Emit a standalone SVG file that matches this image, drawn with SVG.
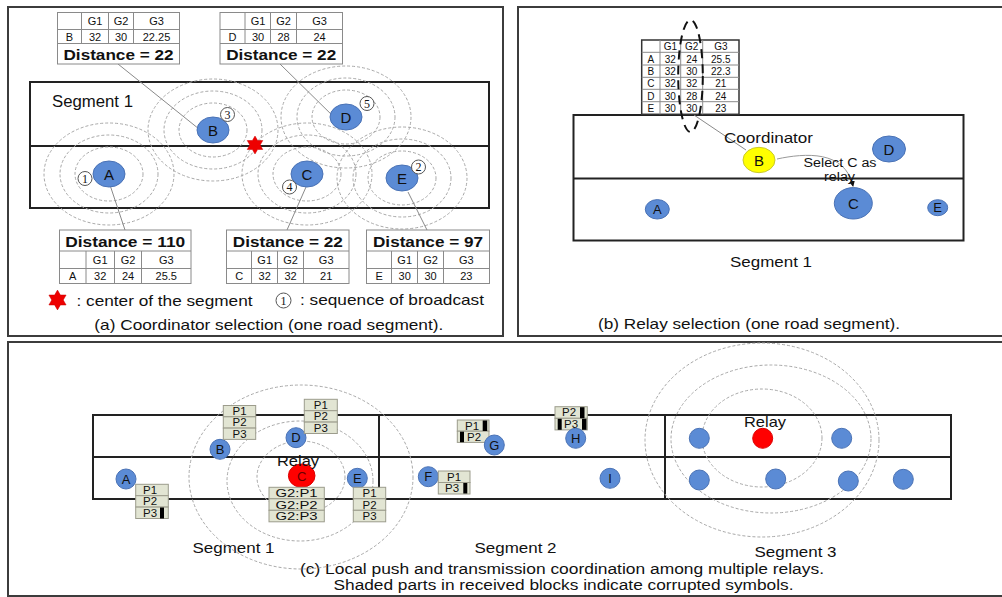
<svg xmlns="http://www.w3.org/2000/svg" width="1002" height="597" viewBox="0 0 1002 597">
<style>
text{font-family:"Liberation Sans",Arial,sans-serif;fill:#111}
.panel{fill:none;stroke:#3c3c3c;stroke-width:2}
.road{fill:none;stroke:#222;stroke-width:2}
.rng{fill:none;stroke:#a8a8a8;stroke-width:1;stroke-dasharray:3 2}
.node{fill:#5b8bd5;stroke:#4a72b5;stroke-width:1}
.nl{font-size:15px;text-anchor:middle}
.cell{fill:#fff;stroke:#8a8a8a;stroke-width:1}
.gl{stroke:#8a8a8a;stroke-width:1}
.tt{font-size:11px;text-anchor:middle}
.tb{font-size:10px;text-anchor:middle}
.dist{font-size:15px;font-weight:bold;text-anchor:middle}
.lead{stroke:#8a8a8a;stroke-width:1;fill:none}
.seq{fill:#fff;stroke:#555;stroke-width:1}
.sq{font-family:"Liberation Serif",serif;font-size:12px;text-anchor:middle}
.blk{fill:#e2e5d3;stroke:#9c9c8c;stroke-width:1}
.bt{font-size:10px;text-anchor:middle}
.bad{fill:#000}
.cap{font-size:15px;text-anchor:middle}
.cn{font-size:13px;text-anchor:middle}
</style>
<defs>
<polygon id="star" points="0,-9 2.6,-4.5 7.79,-4.5 5.2,0 7.79,4.5 2.6,4.5 0,9 -2.6,4.5 -7.79,4.5 -5.2,0 -7.79,-4.5 -2.6,-4.5" fill="#ee0000" stroke="#c00" stroke-width="0.5"/>
<marker id="arr" markerWidth="6" markerHeight="6" refX="5" refY="3" orient="auto" markerUnits="userSpaceOnUse"><path d="M0,0 L6,3 L0,6 Z" fill="#111"/></marker>
</defs>

<!-- Panel borders -->
<rect class="panel" x="8" y="7" width="495" height="329"/>
<rect class="panel" x="518" y="7" width="490" height="329"/>
<rect class="panel" x="8" y="342" width="1000" height="254"/>

<!-- ================= Panel (a) ================= -->
<g id="a-road">
<rect class="road" x="30" y="82" width="459" height="126"/>
<line class="road" x1="30" y1="146" x2="489" y2="146"/>
<text x="52" y="107" style="font-size:16px" textLength="81" lengthAdjust="spacingAndGlyphs">Segment 1</text>
</g>
<g id="a-ranges">
<ellipse class="rng" cx="109" cy="174" rx="34" ry="27"/><ellipse class="rng" cx="109" cy="174" rx="49" ry="39"/><ellipse class="rng" cx="109" cy="174" rx="65" ry="51"/>
<ellipse class="rng" cx="213" cy="130" rx="34" ry="27"/><ellipse class="rng" cx="213" cy="130" rx="49" ry="39"/><ellipse class="rng" cx="213" cy="130" rx="65" ry="51"/>
<ellipse class="rng" cx="307" cy="174" rx="34" ry="27"/><ellipse class="rng" cx="307" cy="174" rx="49" ry="39"/><ellipse class="rng" cx="307" cy="174" rx="65" ry="51"/>
<ellipse class="rng" cx="346" cy="117" rx="34" ry="27"/><ellipse class="rng" cx="346" cy="117" rx="49" ry="39"/><ellipse class="rng" cx="346" cy="117" rx="65" ry="51"/>
<ellipse class="rng" cx="402" cy="178" rx="34" ry="27"/><ellipse class="rng" cx="402" cy="178" rx="49" ry="39"/><ellipse class="rng" cx="402" cy="178" rx="65" ry="51"/>
</g>
<g id="a-connectors">
<line class="lead" x1="118" y1="64" x2="204" y2="133"/>
<line class="lead" x1="280" y1="64" x2="337" y2="120"/>
<line class="lead" x1="110" y1="185" x2="125" y2="230"/>
<line class="lead" x1="306" y1="187" x2="287" y2="230"/>
<line class="lead" x1="408" y1="192" x2="427" y2="230"/>
</g>
<use href="#star" x="255" y="145"/>
<g id="a-node-A"><ellipse class="node" cx="109" cy="174" rx="16" ry="13"/><text class="nl" x="109" y="179.5">A</text>
<circle class="seq" cx="85" cy="178.5" r="7"/><text class="sq" x="85" y="182.5">1</text></g>
<g id="a-node-B"><ellipse class="node" cx="213" cy="130" rx="16" ry="13"/><text class="nl" x="213" y="135.5">B</text>
<circle class="seq" cx="227.5" cy="114.5" r="7"/><text class="sq" x="227.5" y="118.5">3</text></g>
<g id="a-node-C"><ellipse class="node" cx="307" cy="174" rx="16" ry="13"/><text class="nl" x="307" y="179.5">C</text>
<circle class="seq" cx="289.5" cy="187" r="7"/><text class="sq" x="289.5" y="191">4</text></g>
<g id="a-node-D"><ellipse class="node" cx="346" cy="117" rx="16" ry="13"/><text class="nl" x="346" y="122.5">D</text>
<circle class="seq" cx="367" cy="103.5" r="7"/><text class="sq" x="367" y="107.5">5</text></g>
<g id="a-node-E"><ellipse class="node" cx="402" cy="178" rx="16" ry="13"/><text class="nl" x="402" y="183.5">E</text>
<circle class="seq" cx="418.5" cy="167" r="7"/><text class="sq" x="418.5" y="171">2</text></g>

<g id="a-table-B">
<rect class="cell" x="57.5" y="12.5" width="122" height="51.5"/>
<line class="gl" x1="57.5" y1="29.5" x2="179.5" y2="29.5"/><line class="gl" x1="57.5" y1="43.5" x2="179.5" y2="43.5"/>
<line class="gl" x1="81.5" y1="12.5" x2="81.5" y2="43.5"/><line class="gl" x1="108.5" y1="12.5" x2="108.5" y2="43.5"/><line class="gl" x1="133.5" y1="12.5" x2="133.5" y2="43.5"/>
<text class="tt" x="95" y="25">G1</text><text class="tt" x="121" y="25">G2</text><text class="tt" x="156.5" y="25">G3</text>
<text class="tt" x="69.5" y="40.5">B</text><text class="tt" x="95" y="40.5">32</text><text class="tt" x="121" y="40.5">30</text><text class="tt" x="156.5" y="40.5">22.25</text>
<text class="dist" x="118.5" y="59.5" textLength="110" lengthAdjust="spacingAndGlyphs">Distance = 22</text>
</g>
<g id="a-table-D">
<rect class="cell" x="220" y="12.5" width="122.5" height="51.5"/>
<line class="gl" x1="220" y1="29.5" x2="342.5" y2="29.5"/><line class="gl" x1="220" y1="43.5" x2="342.5" y2="43.5"/>
<line class="gl" x1="245" y1="12.5" x2="245" y2="43.5"/><line class="gl" x1="270.5" y1="12.5" x2="270.5" y2="43.5"/><line class="gl" x1="296.5" y1="12.5" x2="296.5" y2="43.5"/>
<text class="tt" x="258" y="25">G1</text><text class="tt" x="283.5" y="25">G2</text><text class="tt" x="319.5" y="25">G3</text>
<text class="tt" x="232.5" y="40.5">D</text><text class="tt" x="258" y="40.5">30</text><text class="tt" x="283.5" y="40.5">28</text><text class="tt" x="319.5" y="40.5">24</text>
<text class="dist" x="281.2" y="59.5" textLength="110" lengthAdjust="spacingAndGlyphs">Distance = 22</text>
</g>
<g id="a-table-A">
<rect class="cell" x="59.5" y="230" width="131.5" height="53.5"/>
<line class="gl" x1="59.5" y1="251" x2="191" y2="251"/><line class="gl" x1="59.5" y1="268.5" x2="191" y2="268.5"/>
<line class="gl" x1="86" y1="251" x2="86" y2="283.5"/><line class="gl" x1="114.5" y1="251" x2="114.5" y2="283.5"/><line class="gl" x1="141.5" y1="251" x2="141.5" y2="283.5"/>
<text class="dist" x="125.2" y="246.5" textLength="120" lengthAdjust="spacingAndGlyphs">Distance = 110</text>
<text class="tt" x="100.2" y="263.5">G1</text><text class="tt" x="128" y="263.5">G2</text><text class="tt" x="166.3" y="263.5">G3</text>
<text class="tt" x="72.7" y="280">A</text><text class="tt" x="100.2" y="280">32</text><text class="tt" x="128" y="280">24</text><text class="tt" x="166.3" y="280">25.5</text>
</g>
<g id="a-table-C">
<rect class="cell" x="226.5" y="230" width="122.5" height="53.5"/>
<line class="gl" x1="226.5" y1="251" x2="349" y2="251"/><line class="gl" x1="226.5" y1="268.5" x2="349" y2="268.5"/>
<line class="gl" x1="251.5" y1="251" x2="251.5" y2="283.5"/><line class="gl" x1="277.5" y1="251" x2="277.5" y2="283.5"/><line class="gl" x1="303.5" y1="251" x2="303.5" y2="283.5"/>
<text class="dist" x="287.8" y="246.5" textLength="110" lengthAdjust="spacingAndGlyphs">Distance = 22</text>
<text class="tt" x="264.7" y="263.5">G1</text><text class="tt" x="290.5" y="263.5">G2</text><text class="tt" x="326.2" y="263.5">G3</text>
<text class="tt" x="239.2" y="280">C</text><text class="tt" x="264.7" y="280">32</text><text class="tt" x="290.5" y="280">32</text><text class="tt" x="326.2" y="280">21</text>
</g>
<g id="a-table-E">
<rect class="cell" x="366.5" y="230" width="123" height="53.5"/>
<line class="gl" x1="366.5" y1="251" x2="489.5" y2="251"/><line class="gl" x1="366.5" y1="268.5" x2="489.5" y2="268.5"/>
<line class="gl" x1="391.5" y1="251" x2="391.5" y2="283.5"/><line class="gl" x1="417.5" y1="251" x2="417.5" y2="283.5"/><line class="gl" x1="443.5" y1="251" x2="443.5" y2="283.5"/>
<text class="dist" x="428" y="246.5" textLength="110" lengthAdjust="spacingAndGlyphs">Distance = 97</text>
<text class="tt" x="404.7" y="263.5">G1</text><text class="tt" x="430.5" y="263.5">G2</text><text class="tt" x="466.3" y="263.5">G3</text>
<text class="tt" x="379.2" y="280">E</text><text class="tt" x="404.7" y="280">30</text><text class="tt" x="430.5" y="280">30</text><text class="tt" x="466.3" y="280">23</text>
</g>
<g id="a-legend">
<use href="#star" transform="translate(57.5,300) scale(1.1)"/>
<text x="76.5" y="305.5" style="font-size:15px" textLength="176" lengthAdjust="spacingAndGlyphs">: center of the segment</text>
<circle class="seq" cx="283.5" cy="300.5" r="7.5"/><text class="sq" x="283.5" y="304.5">1</text>
<text x="300" y="304.5" style="font-size:15px" textLength="184" lengthAdjust="spacingAndGlyphs">: sequence of broadcast</text>
<text class="cap" x="268.8" y="330" textLength="349" lengthAdjust="spacingAndGlyphs">(a) Coordinator selection (one road segment).</text>
</g>

<!-- ================= Panel (b) ================= -->
<g id="b-road">
<rect class="road" x="573.5" y="115" width="390" height="125.5"/>
<line class="road" x1="573.5" y1="178.5" x2="963.5" y2="178.5"/>
<text x="771" y="267" style="font-size:15px;text-anchor:middle" textLength="82" lengthAdjust="spacingAndGlyphs">Segment 1</text>
<text class="cap" x="749" y="328.5" textLength="302" lengthAdjust="spacingAndGlyphs">(b) Relay selection (one road segment).</text>
</g>
<g id="b-table">
<rect x="641.7" y="40" width="97.3" height="74.3" fill="#fff" stroke="#333" stroke-width="1.5"/>
<line class="gl" x1="641.7" y1="52.3" x2="739" y2="52.3"/><line class="gl" x1="641.7" y1="65" x2="739" y2="65"/><line class="gl" x1="641.7" y1="77.3" x2="739" y2="77.3"/><line class="gl" x1="641.7" y1="89.3" x2="739" y2="89.3"/><line class="gl" x1="641.7" y1="101.7" x2="739" y2="101.7"/>
<line class="gl" x1="660" y1="40" x2="660" y2="114.3"/><line class="gl" x1="680.7" y1="40" x2="680.7" y2="114.3"/><line class="gl" x1="702.7" y1="40" x2="702.7" y2="114.3"/>
<text class="tb" x="670.3" y="50">G1</text><text class="tb" x="691.7" y="50">G2</text><text class="tb" x="720.8" y="50">G3</text>
<text class="tb" x="650.8" y="62.5">A</text><text class="tb" x="670.3" y="62.5">32</text><text class="tb" x="691.7" y="62.5">24</text><text class="tb" x="720.8" y="62.5">25.5</text>
<text class="tb" x="650.8" y="75">B</text><text class="tb" x="670.3" y="75">32</text><text class="tb" x="691.7" y="75">30</text><text class="tb" x="720.8" y="75">22.3</text>
<text class="tb" x="650.8" y="87.2">C</text><text class="tb" x="670.3" y="87.2">32</text><text class="tb" x="691.7" y="87.2">32</text><text class="tb" x="720.8" y="87.2">21</text>
<text class="tb" x="650.8" y="99.5">D</text><text class="tb" x="670.3" y="99.5">30</text><text class="tb" x="691.7" y="99.5">28</text><text class="tb" x="720.8" y="99.5">24</text>
<text class="tb" x="650.8" y="111.9">E</text><text class="tb" x="670.3" y="111.9">30</text><text class="tb" x="691.7" y="111.9">30</text><text class="tb" x="720.8" y="111.9">23</text>
<ellipse cx="690.5" cy="76" rx="12.3" ry="56" fill="none" stroke="#111" stroke-width="2" stroke-dasharray="9 6"/>
</g>
<g id="b-connectors">
<line class="lead" x1="694" y1="115" x2="746" y2="150"/>
<path d="M777,159 C805,153 845,150 853,186" fill="none" stroke="#999" stroke-width="1" marker-end="url(#arr)"/>
</g>
<g id="b-node-B"><ellipse cx="759" cy="160" rx="16" ry="12.7" fill="#ffff00" stroke="#c9c92a" stroke-width="1"/><text class="nl" x="759" y="165.5">B</text>
<text x="768.5" y="142.7" style="font-size:15px;text-anchor:middle" textLength="89" lengthAdjust="spacingAndGlyphs">Coordinator</text></g>
<g id="b-node-D"><ellipse class="node" cx="889" cy="149" rx="16.5" ry="13"/><text class="nl" x="889" y="154.5">D</text></g>
<g id="b-node-A"><ellipse class="node" cx="657.3" cy="209.3" rx="12" ry="9.7"/><text class="cn" x="657.3" y="214">A</text></g>
<g id="b-node-C"><ellipse class="node" cx="853.3" cy="203.3" rx="19" ry="15.7"/><text class="nl" x="853.3" y="209">C</text>
<text x="840" y="166.5" style="font-size:12px;text-anchor:middle" textLength="73" lengthAdjust="spacingAndGlyphs">Select C as</text>
<text x="839.5" y="180.5" style="font-size:12px;text-anchor:middle" textLength="31" lengthAdjust="spacingAndGlyphs">relay</text></g>
<g id="b-node-E"><ellipse class="node" cx="937.7" cy="207.7" rx="10" ry="8"/><text class="cn" x="937.7" y="212.3">E</text></g>

<!-- ================= Panel (c) ================= -->
<g id="c-road">
<rect class="road" x="93" y="415" width="858" height="84"/>
<line class="road" x1="93" y1="457" x2="951" y2="457"/>
<line class="road" x1="379" y1="415" x2="379" y2="499"/>
<line class="road" x1="665" y1="415" x2="665" y2="499"/>
<text x="233.5" y="553" style="font-size:14px;text-anchor:middle" textLength="82" lengthAdjust="spacingAndGlyphs">Segment 1</text>
<text x="515.5" y="553" style="font-size:14px;text-anchor:middle" textLength="82" lengthAdjust="spacingAndGlyphs">Segment 2</text>
<text x="795.5" y="557" style="font-size:14px;text-anchor:middle" textLength="82" lengthAdjust="spacingAndGlyphs">Segment 3</text>
<text x="562" y="574" style="font-size:14px;text-anchor:middle" textLength="524" lengthAdjust="spacingAndGlyphs">(c) Local push and transmission coordination among multiple relays.</text>
<text x="563.5" y="589.5" style="font-size:14px;text-anchor:middle" textLength="460" lengthAdjust="spacingAndGlyphs">Shaded parts in received blocks indicate corrupted symbols.</text>
</g>
<g id="c-ranges">
<ellipse class="rng" cx="301" cy="477" rx="44" ry="36"/>
<ellipse class="rng" cx="300" cy="481" rx="73" ry="60"/>
<ellipse class="rng" cx="301" cy="477" rx="112" ry="92"/>
<ellipse class="rng" cx="762" cy="438" rx="60" ry="49"/>
<ellipse class="rng" cx="771" cy="439" rx="100" ry="74"/>
<ellipse class="rng" cx="762" cy="440" rx="117" ry="97"/>
</g>
<g id="c-node-A"><circle class="node" cx="126" cy="479" r="10"/><text class="cn" x="126" y="483.5">A</text>
<rect class="blk" x="135.7" y="484.3" width="32.6" height="11.4"/><rect class="blk" x="135.7" y="495.7" width="32.6" height="11.4"/><rect class="blk" x="135.7" y="507.1" width="32.6" height="11.4"/>
<text class="bt" x="150" y="494" textLength="14" lengthAdjust="spacingAndGlyphs">P1</text><text class="bt" x="150" y="505.4" textLength="14" lengthAdjust="spacingAndGlyphs">P2</text><text class="bt" x="150" y="516.8" textLength="14" lengthAdjust="spacingAndGlyphs">P3</text>
<rect class="bad" x="160" y="507.5" width="4" height="11"/></g>
<g id="c-node-B"><circle class="node" cx="220" cy="449.3" r="10"/><text class="cn" x="220" y="454">B</text>
<rect class="blk" x="223.3" y="405.5" width="32.4" height="11.3"/><rect class="blk" x="223.3" y="416.8" width="32.4" height="11.3"/><rect class="blk" x="223.3" y="428.1" width="32.4" height="11.3"/>
<text class="bt" x="239.5" y="415" textLength="14" lengthAdjust="spacingAndGlyphs">P1</text><text class="bt" x="239.5" y="426.3" textLength="14" lengthAdjust="spacingAndGlyphs">P2</text><text class="bt" x="239.5" y="437.6" textLength="14" lengthAdjust="spacingAndGlyphs">P3</text></g>
<g id="c-node-D"><circle class="node" cx="296" cy="437.7" r="10"/><text class="cn" x="296" y="442.3">D</text>
<rect class="blk" x="304.3" y="399.3" width="33" height="11.4"/><rect class="blk" x="304.3" y="410.7" width="33" height="11.4"/><rect class="blk" x="304.3" y="422.1" width="33" height="11.4"/>
<text class="bt" x="320.8" y="409" textLength="14" lengthAdjust="spacingAndGlyphs">P1</text><text class="bt" x="320.8" y="420.4" textLength="14" lengthAdjust="spacingAndGlyphs">P2</text><text class="bt" x="320.8" y="431.8" textLength="14" lengthAdjust="spacingAndGlyphs">P3</text></g>
<g id="c-node-C"><ellipse cx="301.7" cy="475.7" rx="13.3" ry="11.7" fill="#ff0000" stroke="#d00" stroke-width="1"/><text class="cn" x="301.7" y="480.5" style="fill:#600">C</text>
<text x="298" y="466" style="font-size:15px;text-anchor:middle" textLength="42" lengthAdjust="spacingAndGlyphs">Relay</text>
<rect class="blk" x="269" y="487.3" width="55.3" height="11.5"/><rect class="blk" x="269" y="498.8" width="55.3" height="11.5"/><rect class="blk" x="269" y="510.3" width="55.3" height="11.5"/>
<text class="bt" x="296.6" y="497" textLength="42" lengthAdjust="spacingAndGlyphs">G2:P1</text><text class="bt" x="296.6" y="508.5" textLength="42" lengthAdjust="spacingAndGlyphs">G2:P2</text><text class="bt" x="296.6" y="520" textLength="42" lengthAdjust="spacingAndGlyphs">G2:P3</text></g>
<g id="c-node-E"><circle class="node" cx="357.3" cy="478.3" r="10"/><text class="cn" x="357.3" y="483">E</text>
<rect class="blk" x="353.3" y="487.3" width="32.4" height="11.5"/><rect class="blk" x="353.3" y="498.8" width="32.4" height="11.5"/><rect class="blk" x="353.3" y="510.3" width="32.4" height="11.5"/>
<text class="bt" x="369.5" y="497" textLength="14" lengthAdjust="spacingAndGlyphs">P1</text><text class="bt" x="369.5" y="508.5" textLength="14" lengthAdjust="spacingAndGlyphs">P2</text><text class="bt" x="369.5" y="520" textLength="14" lengthAdjust="spacingAndGlyphs">P3</text></g>
<g id="c-node-G">
<rect class="blk" x="457.3" y="420" width="31.7" height="11.2"/><rect class="blk" x="457.3" y="431.2" width="31.7" height="11.2"/>
<text class="bt" x="472" y="429.6" textLength="14" lengthAdjust="spacingAndGlyphs">P1</text><text class="bt" x="474" y="440.8" textLength="14" lengthAdjust="spacingAndGlyphs">P2</text>
<rect class="bad" x="482.7" y="420.5" width="4.5" height="10.5"/><rect class="bad" x="460" y="431.7" width="4" height="10.5"/>
<circle class="node" cx="494.3" cy="445" r="10"/><text class="cn" x="494.3" y="449.7">G</text></g>
<g id="c-node-H">
<rect class="blk" x="555" y="406.7" width="32.3" height="11.6"/><rect class="blk" x="555" y="418.3" width="32.3" height="11.6"/>
<text class="bt" x="569" y="416.4" textLength="14" lengthAdjust="spacingAndGlyphs">P2</text><text class="bt" x="571" y="428" textLength="14" lengthAdjust="spacingAndGlyphs">P3</text>
<rect class="bad" x="580" y="407.2" width="4.5" height="11"/><rect class="bad" x="557.7" y="418.8" width="4" height="11"/><rect class="bad" x="582" y="418.8" width="4.5" height="11"/>
<circle class="node" cx="575.7" cy="438.3" r="10"/><text class="cn" x="575.7" y="443">H</text></g>
<g id="c-node-F"><circle class="node" cx="428.3" cy="476.7" r="10"/><text class="cn" x="428.3" y="481.3">F</text>
<rect class="blk" x="438.3" y="471" width="31.7" height="11.5"/><rect class="blk" x="438.3" y="482.5" width="31.7" height="11.5"/>
<text class="bt" x="454" y="480.8" textLength="14" lengthAdjust="spacingAndGlyphs">P1</text><text class="bt" x="452" y="492.3" textLength="14" lengthAdjust="spacingAndGlyphs">P3</text>
<rect class="bad" x="463.3" y="483" width="4" height="10.5"/></g>
<g id="c-node-I"><circle class="node" cx="610" cy="478.3" r="10"/><text class="cn" x="610" y="483">I</text></g>
<g id="c-seg3-relay"><circle cx="762.7" cy="438.3" r="10" fill="#ff0000" stroke="#d00" stroke-width="1"/>
<text x="765" y="427.3" style="font-size:15px;text-anchor:middle" textLength="42" lengthAdjust="spacingAndGlyphs">Relay</text></g>
<g id="c-seg3-n1"><circle class="node" cx="699.3" cy="438.3" r="10"/></g>
<g id="c-seg3-n2"><circle class="node" cx="841.7" cy="438.3" r="10"/></g>
<g id="c-seg3-n3"><circle class="node" cx="699.3" cy="480" r="10"/></g>
<g id="c-seg3-n4"><circle class="node" cx="775.7" cy="479" r="10"/></g>
<g id="c-seg3-n5"><circle class="node" cx="848.3" cy="481" r="10"/></g>
<g id="c-seg3-n6"><circle class="node" cx="903.3" cy="479.3" r="10"/></g>
</svg>
